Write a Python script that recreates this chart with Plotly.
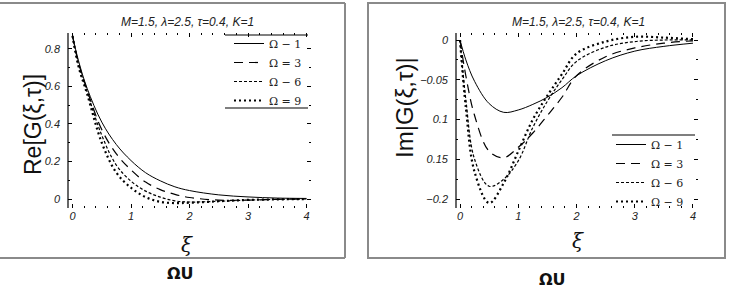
import plotly.graph_objects as go

# ---------------- data ----------------
xi = [0, 0.1, 0.25, 0.5, 0.75, 1.0, 1.25, 1.5, 1.75, 2.0, 2.5, 3.0, 3.5, 4.0]
omega_labels_re = ["Ω − 1", "Ω = 3", "Ω − 6", "Ω = 9"]
omega_labels_im = ["Ω − 1", "Ω = 3", "Ω − 6", "Ω − 9"]

re_w1 = [0.87, 0.74, 0.59, 0.41, 0.29, 0.205, 0.14, 0.097, 0.065, 0.045, 0.022, 0.011, 0.005, 0.003]
re_w3 = [0.87, 0.73, 0.58, 0.37, 0.24, 0.155, 0.09, 0.05, 0.025, 0.008, -0.006, -0.006, -0.002, 0.0]
re_w6 = [0.87, 0.72, 0.57, 0.34, 0.18, 0.095, 0.042, 0.01, -0.01, -0.016, -0.012, -0.006, -0.002, 0.0]
re_w9 = [0.87, 0.71, 0.56, 0.30, 0.14, 0.06, 0.01, -0.015, -0.022, -0.02, -0.012, -0.005, -0.002, 0.0]

im_w1 = [0.0, -0.025, -0.052, -0.080, -0.091, -0.088, -0.081, -0.072, -0.060, -0.045, -0.026, -0.014, -0.008, -0.004]
im_w3 = [0.0, -0.045, -0.095, -0.140, -0.148, -0.135, -0.117, -0.095, -0.072, -0.045, -0.021, -0.010, -0.004, -0.001]
im_w6 = [0.0, -0.075, -0.150, -0.184, -0.175, -0.152, -0.110, -0.077, -0.050, -0.027, -0.009, -0.002, 0.0, 0.0]
im_w9 = [0.0, -0.085, -0.166, -0.205, -0.180, -0.140, -0.100, -0.070, -0.043, -0.017, -0.002, 0.004, 0.003, 0.001]

re_ticks = [0, 0.2, 0.4, 0.6, 0.8]
re_ticktext = ["0", "0.2", "0.4", "0.6", "0.8"]
im_ticks = [0, -0.05, -0.1, -0.15, -0.2]
im_ticktext = ["0", "−0.05", "0.1", "0.15", "−0.2"]
x_ticks = [0, 1, 2, 3, 4]

title_text = "M=1.5, λ=2.5, τ=0.4, K=1"

# ---------------- styles ----------------
styles = [
    dict(dash="solid", width=1),
    dict(dash="9px,6px", width=1.2),
    dict(dash="3px,2px", width=1.2),
    dict(dash="2px,3px", width=2.2),
]

W, H = 730, 292
def px(x):
    return x / W
def py(y):
    return 1 - y / H

fig = go.Figure()
for vals, lab, st in zip([re_w1, re_w3, re_w6, re_w9], omega_labels_re, styles):
    fig.add_trace(go.Scatter(x=xi, y=vals, mode="lines", name=lab, line_shape="spline",
                             line=dict(color="black", **st), xaxis="x", yaxis="y", legend="legend"))
for vals, lab, st in zip([im_w1, im_w3, im_w6, im_w9], omega_labels_im, styles):
    fig.add_trace(go.Scatter(x=xi, y=vals, mode="lines", name=lab, line_shape="spline",
                             line=dict(color="black", **st), xaxis="x2", yaxis="y2", legend="legend2"))

tickfont = dict(family="Liberation Sans", size=11, color="#222", style="italic")
common_x = dict(showline=False, showgrid=False, zeroline=False, ticks="inside", ticklen=4,
                tickcolor="black", mirror="ticks", tickvals=x_ticks, tickfont=tickfont,
                minor=dict(ticks="inside", ticklen=2, dtick=0.2, tickcolor="black"))
common_y = dict(showline=False, showgrid=False, zeroline=False, ticks="inside", ticklen=4,
                tickcolor="black", mirror="ticks", tickfont=tickfont, ticklabelstandoff=7)

ydom = [py(208), py(33)]
legfont = dict(family="DejaVu Serif", size=11, color="#222")
fig.update_layout(
    width=W, height=H, margin=dict(l=0, r=0, t=0, b=0),
    paper_bgcolor="white", plot_bgcolor="white",
    xaxis=dict(domain=[px(68), px(311)], range=[-0.077, 4.077], anchor="y", **common_x),
    yaxis=dict(domain=ydom, range=[-0.048, 0.885], anchor="x", tickvals=re_ticks, ticktext=re_ticktext,
               minor=dict(ticks="inside", ticklen=2, dtick=0.1, tickcolor="black"), **common_y),
    xaxis2=dict(domain=[px(456), px(698)], range=[-0.069, 4.086], anchor="y2", **common_x),
    yaxis2=dict(domain=ydom, range=[-0.2113, 0.0088], anchor="x2", tickvals=im_ticks, ticktext=im_ticktext,
                minor=dict(ticks="inside", ticklen=2, dtick=0.025, tickcolor="black"), **common_y),
    legend=dict(x=px(229), y=py(29), xanchor="left", yanchor="top", bgcolor="rgba(0,0,0,0)",
                font=legfont, tracegroupgap=0, itemwidth=30),
    legend2=dict(x=px(611), y=py(130), xanchor="left", yanchor="top", bgcolor="rgba(0,0,0,0)",
                 font=legfont, tracegroupgap=0, itemwidth=30),
    showlegend=True,
)

shapes = []
# y-axis lines
for xr, yr in [("x domain", "y domain"), ("x2 domain", "y2 domain")]:
    shapes.append(dict(type="line", xref=xr, yref=yr, x0=0, x1=0, y0=0, y1=1,
                       line=dict(color="black", width=1.2)))
# legend rules
shapes.append(dict(type="line", xref="paper", yref="paper", x0=px(225), x1=px(308), y0=py(35), y1=py(35),
                   line=dict(color="black", width=1.2)))
shapes.append(dict(type="line", xref="paper", yref="paper", x0=px(225), x1=px(308), y0=py(108), y1=py(108),
                   line=dict(color="black", width=1.2)))
shapes.append(dict(type="line", xref="paper", yref="paper", x0=px(612), x1=px(695), y0=py(135), y1=py(135),
                   line=dict(color="black", width=1.2)))
# gray frames
g = dict(color="#8a8a8a", width=2)
shapes.append(dict(type="line", xref="paper", yref="paper", x0=0, x1=px(345), y0=py(3), y1=py(3), line=g))
shapes.append(dict(type="line", xref="paper", yref="paper", x0=0, x1=px(345), y0=py(258), y1=py(258), line=g))
shapes.append(dict(type="line", xref="paper", yref="paper", x0=px(345), x1=px(345), y0=py(3), y1=py(258), line=g))
shapes.append(dict(type="rect", xref="paper", yref="paper", x0=px(368), x1=px(725), y0=py(258), y1=py(3), line=g))
fig.update_layout(shapes=shapes)

ann = []
def add_text(text, x, y, font, angle=0):
    ann.append(dict(text=text, x=px(x), y=py(y), xref="paper", yref="paper", showarrow=False,
                    xanchor="center", yanchor="middle", textangle=angle, font=font))

ifont = dict(family="Liberation Sans", size=12, color="#222", style="italic")
add_text(title_text, 187, 22, ifont)
add_text(title_text, 578, 22, ifont)
add_text("Re[G(ξ,τ)]", 33, 125, dict(family="Liberation Sans", size=23, color="#111"), -90)
add_text("Im|G(ξ,τ)|", 405, 108, dict(family="Liberation Sans", size=24, color="#111"), -90)
xifont = dict(family="DejaVu Serif", size=20, color="#111", style="italic")
add_text("ξ", 187, 245, xifont)
add_text("ξ", 578, 241, xifont)
bfont = dict(family="DejaVu Sans", size=16, color="#111", weight="bold")
add_text("ΩU", 180, 273, bfont)
add_text("ΩU", 552, 279, bfont)
fig.update_layout(annotations=ann)

fig.write_html("out.html")
